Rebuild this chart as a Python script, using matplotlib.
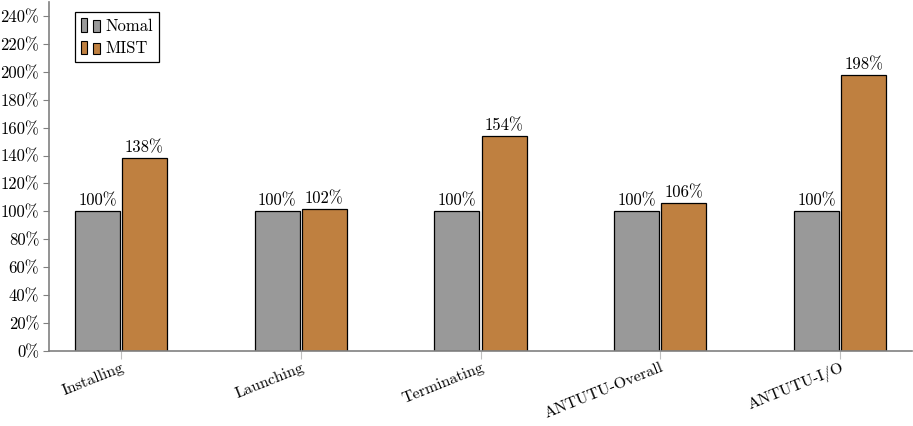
import numpy as np
import matplotlib
matplotlib.use("Agg")
import matplotlib.pyplot as plt
from matplotlib.patches import Rectangle
from matplotlib.legend_handler import HandlerBase

# Données
categories = ["Installing", "Launching", "Terminating", "ANTUTU-Overall", "ANTUTU-I/O"]
nomal = [100, 100, 100, 100, 100]
mist = [138, 102, 154, 106, 198]
series_names = ["Nomal", "MIST"]
y_ticks = list(range(0, 241, 20))

plt.rcParams['font.family'] = ['cmr10', 'DejaVu Serif']
plt.rcParams['axes.formatter.use_mathtext'] = True
plt.rcParams['font.size'] = 12

GRAY = "#999999"
BROWN = "#bf8040"
AXIS = "#808080"


# Petite icône de légende façon pgfplots (deux barres)
class TwoBars(HandlerBase):
    def create_artists(self, legend, orig, xd, yd, width, height, fontsize, trans):
        fc = orig.get_facecolor()
        w = width * 0.33
        r1 = Rectangle((0, -yd), w, height, facecolor=fc, edgecolor="black",
                       linewidth=0.8, transform=trans)
        r2 = Rectangle((width * 0.62, -yd), w, height * 0.85, facecolor=fc, edgecolor="black",
                       linewidth=0.8, transform=trans)
        return [r1, r2]


fig = plt.figure(figsize=(9.13, 4.26), dpi=100)
ax = fig.add_axes([49 / 913, 75 / 426, 863 / 913, 349 / 426])

x = np.arange(len(categories))
w = 0.25
gap = 0.006
b1 = ax.bar(x - w / 2 - gap, nomal, w, color=GRAY, edgecolor="black", linewidth=0.9)
b2 = ax.bar(x + w / 2 + gap, mist, w, color=BROWN, edgecolor="black", linewidth=0.9)

for bars, vals in [(b1, nomal), (b2, mist)]:
    for rect, v in zip(bars, vals):
        ax.text(rect.get_x() + rect.get_width() / 2, v + 2, f"{v}%", ha="center", va="bottom")

ax.set_xlim(-0.4, 4.4)
ax.set_ylim(0, 250)
ax.set_yticks(y_ticks)
ax.set_yticklabels([f"{t}%" for t in y_ticks])
ax.set_xticks(x)
ax.set_xticklabels(categories, rotation=22, ha="right", rotation_mode="anchor", fontsize=11.5)

for s in ["top", "right"]:
    ax.spines[s].set_visible(False)
for s in ["left", "bottom"]:
    ax.spines[s].set_color(AXIS)
    ax.spines[s].set_linewidth(1.2)
ax.tick_params(axis="y", direction="out", length=4, color=AXIS, pad=3)
ax.tick_params(axis="x", direction="out", length=6, color="#c0c0c0", pad=1)

leg = ax.legend([b1.patches[0], b2.patches[0]], series_names,
                loc="upper left", bbox_to_anchor=(0.030, 0.97), borderaxespad=0,
                handler_map={Rectangle: TwoBars()},
                handlelength=1.2, handleheight=0.9, handletextpad=0.3, fancybox=False,
                edgecolor="black", framealpha=1, borderpad=0.35, labelspacing=0.4)
leg.get_frame().set_linewidth(0.9)

fig.savefig("out.png", dpi=100)
